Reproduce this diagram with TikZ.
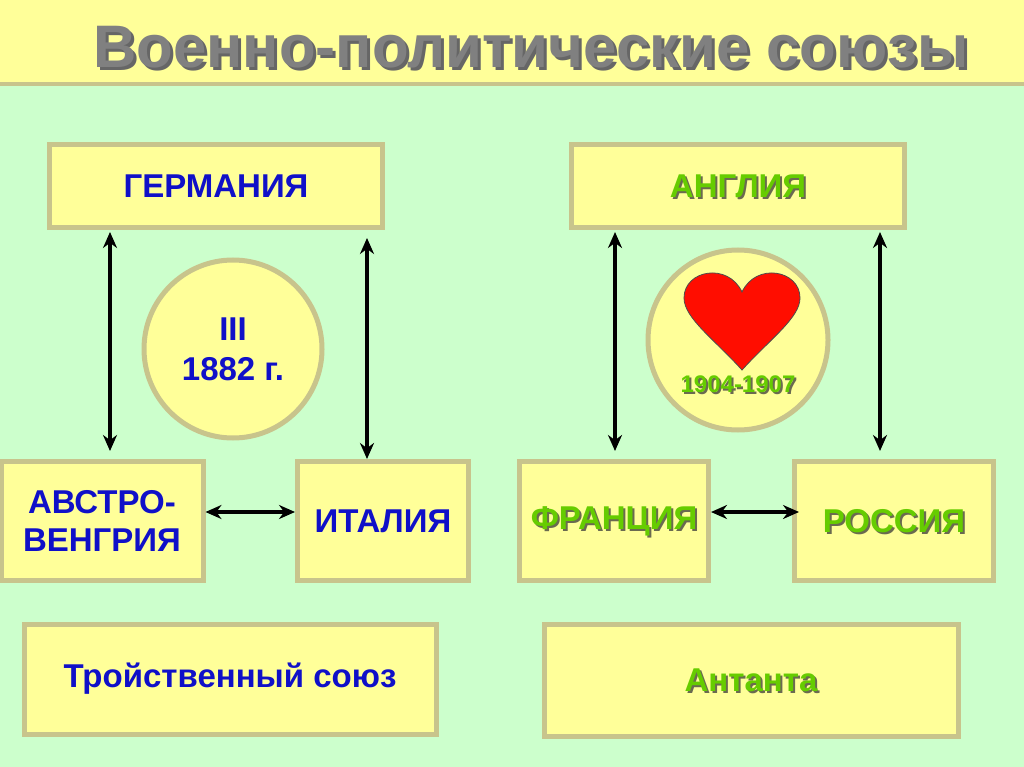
\documentclass[tikz,border=0pt]{standalone}
\usepackage{fontspec}
\setmainfont{Liberation Sans}
\usetikzlibrary{arrows.meta,calc}
\definecolor{bg}{HTML}{CCFFCC}
\definecolor{bx}{HTML}{FFFF99}
\definecolor{bd}{HTML}{C8C48C}
\definecolor{bl}{HTML}{1010C8}
\definecolor{gr}{HTML}{66CC00}
\definecolor{sh}{HTML}{6A6A50}
\tikzset{
 box/.style={draw=bd,line width=5pt,fill=bx,inner sep=0pt},
 blu/.style={font=\fontsize{33}{38}\selectfont\bfseries,text=bl,align=center},
 grn/.style={font=\fontsize{33}{38}\selectfont\bfseries,text=gr,align=center},
 shd/.style={font=\fontsize{33}{38}\selectfont\bfseries,text=sh,align=center},
 arr/.style={line width=4.5pt,{Stealth[length=16pt,width=14pt]}-{Stealth[length=16pt,width=14pt]}}
}
\newcommand{\gtext}[3]{\node[shd] at ($(#1)+(2,2)$) {#3};\node[grn] (#2) at (#1) {#3};}
\begin{document}
\begin{tikzpicture}[x=1pt,y=-1pt]
\useasboundingbox (0,0) rectangle (1024,767);
\fill[bg] (0,0) rectangle (1024,767);
\draw[fill=bx,draw=bd,line width=4pt] (-5,-5) rectangle (1029,84);
\node[font=\fontsize{60}{66}\selectfont\bfseries,text=black!60] at (534,50) {Военно-политические союзы};
\node[font=\fontsize{60}{66}\selectfont\bfseries,text=gray] (title) at (531,47) {Военно-политические союзы};
% boxes
\node[box,minimum width=333pt,minimum height=83pt] (ger) at (216,186) {};
\node[blu] at (ger) {ГЕРМАНИЯ};
\node[box,minimum width=333pt,minimum height=83pt] (eng) at (738,186) {};
\gtext{eng}{engt}{АНГЛИЯ}
\node[box,circle,minimum size=178pt] (c1) at (233,349) {};
\node[blu,font=\fontsize{33}{40}\selectfont\bfseries] at (c1) {III\\1882 г.};
\node[box,circle,minimum size=180pt] (c2) at (738,340) {};
\fill[red!90!orange,draw=black!70,line width=0.8pt] (742,370) .. controls (715,340) and (684,318) .. (684,298) .. controls (684,270) and (728,262) .. (742,292) .. controls (756,262) and (800,270) .. (800,298) .. controls (800,318) and (769,340) .. (742,370) -- cycle;
\node[font=\fontsize{24}{26}\selectfont\bfseries,text=sh] at (740,386) {1904-1907};
\node[font=\fontsize{24}{26}\selectfont\bfseries,text=gr] (yr) at (738,384) {1904-1907};
\node[box,minimum width=202pt,minimum height=119pt] (av) at (102,521) {};
\node[blu] at (av) {АВСТРО-\\ВЕНГРИЯ};
\node[box,minimum width=171pt,minimum height=119pt] (it) at (383,521) {};
\node[blu] at (it) {ИТАЛИЯ};
\node[box,minimum width=189pt,minimum height=119pt] (fr) at (614,521) {};
\gtext{fr}{frt}{ФРАНЦИЯ}
\node[box,minimum width=199pt,minimum height=119pt] (ru) at (894,521) {};
\gtext{ru}{rut}{РОССИЯ}
\node[box,minimum width=412pt,minimum height=110pt] (tri) at (230,679) {};
\node[blu] at (tri) {Тройственный союз};
\node[box,minimum width=414pt,minimum height=112pt] (ant) at (751,680) {};
\gtext{ant}{antt}{Антанта}
% arrows
\draw[arr] ($(ger.south)+(-106,2)$) -- ($(av.north)+(8,-8)$);
\draw[arr] ($(ger.south)+(151,8)$) -- ($(it.north)+(-16,0)$);
\draw[arr] ($(eng.south)+(-123,2)$) -- ($(fr.north)+(1,-8)$);
\draw[arr] ($(eng.south)+(142,2)$) -- ($(ru.north)+(-14,-8)$);
\draw[arr] (av.east|-0,512) -- (it.west|-0,512);
\draw[arr] (fr.east|-0,512) -- ($(ru.west|-0,512)+(7,0)$);
\end{tikzpicture}
\end{document}
